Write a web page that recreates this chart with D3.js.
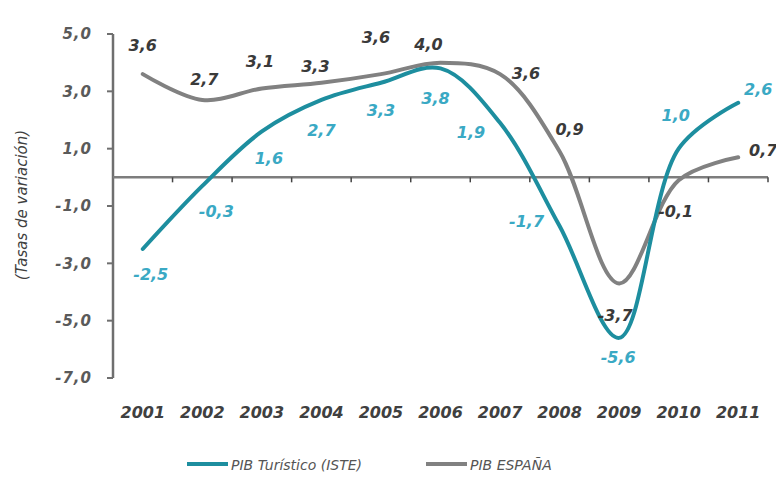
<!DOCTYPE html>
<html>
<head>
<meta charset="utf-8">
<script src="https://cdn.jsdelivr.net/npm/d3@7"></script>
<style>
  body { margin: 0; background: #fff; }
  svg text { font-family: "DejaVu Sans", sans-serif; font-style: italic; }
</style>
</head>
<body>
<svg width="776" height="479"></svg>
<script>
// values (data labels)
let years = ["2001", "2002", "2003", "2004", "2005", "2006", "2007", "2008", "2009", "2010", "2011"];
let pibTuristico = [-2.5, -0.3, 1.6, 2.7, 3.3, 3.8, 1.9, -1.7, -5.6, 1.0, 2.6];
let pibEspana = [3.6, 2.7, 3.1, 3.3, 3.6, 4.0, 3.6, 0.9, -3.7, -0.1, 0.7];
let yTicks = [5, 3, 1, -1, -3, -5, -7];

// label nudges (pixels) so the value labels sit where they did
let turOffsets = [[8, 25], [14, 25], [7, 27], [0, 30], [0, 28], [-5, 30], [-29, 10], [-33, -5], [-1, 20], [-3, -33], [20, -13]];
let espOffsets = [[0, -29], [2, -21], [-2, -27], [-6, -16], [-5, -37], [-12, -18], [26, -1], [10, -22], [-4, 32], [-3, 31], [25, -7]];

let teal = "#1d8e9f";
let tealText = "#3aa9c4";
let grey = "#818181";

let svg = d3.select("svg");
let fmt = v => d3.format(".1f")(v).replace(".", ",").replace("−", "-");

let x = d3.scaleBand().domain(years).range([113, 768]);
let y = d3.scaleLinear().domain([-7, 5]).range([378, 34]);
let cx = d => x(d) + x.bandwidth() / 2;

// y axis
svg.append("line")
  .attr("x1", 113).attr("x2", 113)
  .attr("y1", y(5)).attr("y2", y(-7))
  .attr("stroke", "#6f6f6f").attr("stroke-width", 2.5);

svg.append("g")
  .selectAll("line")
  .data(yTicks)
  .enter()
  .append("line")
  .attr("x1", 107).attr("x2", 113)
  .attr("y1", d => y(d)).attr("y2", d => y(d))
  .attr("stroke", "#6f6f6f").attr("stroke-width", 2);

svg.append("g")
  .selectAll("text")
  .data(yTicks)
  .enter()
  .append("text")
  .attr("x", 92)
  .attr("y", d => y(d))
  .attr("dy", "0.35em")
  .attr("text-anchor", "end")
  .attr("font-size", 15)
  .attr("font-weight", "bold")
  .attr("letter-spacing", 1)
  .attr("fill", "#5a5a5a")
  .text(fmt);

svg.append("text")
  .attr("transform", "translate(22,205) rotate(-90)")
  .attr("text-anchor", "middle")
  .attr("dy", "0.35em")
  .attr("font-size", 15)
  .attr("fill", "#3f3f3f")
  .text("(Tasas de variación)");

// zero line with ticks between years
svg.append("line")
  .attr("x1", 113).attr("x2", 768)
  .attr("y1", y(0)).attr("y2", y(0))
  .attr("stroke", "#7d7d7d").attr("stroke-width", 2.5);

svg.append("g")
  .selectAll("line")
  .data(years)
  .enter()
  .append("line")
  .attr("x1", d => x(d) + x.bandwidth()).attr("x2", d => x(d) + x.bandwidth())
  .attr("y1", y(0)).attr("y2", y(0) + 5)
  .attr("stroke", "#444").attr("stroke-width", 1.5);

// x labels
svg.append("g")
  .selectAll("text")
  .data(years)
  .enter()
  .append("text")
  .attr("x", d => cx(d))
  .attr("y", 418)
  .attr("text-anchor", "middle")
  .attr("font-size", 16)
  .attr("font-weight", "bold")
  .attr("fill", "#404040")
  .text(d => d);

// lines
let line = vals => d3.line()
  .x((d, i) => cx(years[i]))
  .y(d => y(d))
  .curve(d3.curveCatmullRom.alpha(0.5))(vals);

svg.append("path")
  .attr("d", line(pibEspana))
  .attr("fill", "none")
  .attr("stroke", grey)
  .attr("stroke-width", 4)
  .attr("stroke-linecap", "round");

svg.append("path")
  .attr("d", line(pibTuristico))
  .attr("fill", "none")
  .attr("stroke", teal)
  .attr("stroke-width", 4)
  .attr("stroke-linecap", "round");

// value labels
svg.append("g")
  .selectAll("text")
  .data(pibEspana)
  .enter()
  .append("text")
  .attr("x", (d, i) => cx(years[i]) + espOffsets[i][0])
  .attr("y", (d, i) => y(d) + espOffsets[i][1])
  .attr("dy", "0.35em")
  .attr("text-anchor", "middle")
  .attr("font-size", 16)
  .attr("font-weight", "bold")
  .attr("fill", "#3a3a3a")
  .text(fmt);

svg.append("g")
  .selectAll("text")
  .data(pibTuristico)
  .enter()
  .append("text")
  .attr("x", (d, i) => cx(years[i]) + turOffsets[i][0])
  .attr("y", (d, i) => y(d) + turOffsets[i][1])
  .attr("dy", "0.35em")
  .attr("text-anchor", "middle")
  .attr("font-size", 16)
  .attr("font-weight", "bold")
  .attr("fill", tealText)
  .text(fmt);

// legend
let legend = [
  { name: "PIB Turístico (ISTE)", color: teal, x: 187 },
  { name: "PIB ESPAÑA", color: grey, x: 426 }
];
let lg = svg.append("g")
  .selectAll("g")
  .data(legend)
  .enter()
  .append("g");
lg.append("line")
  .attr("x1", d => d.x).attr("x2", d => d.x + 41)
  .attr("y1", 464).attr("y2", 464)
  .attr("stroke", d => d.color).attr("stroke-width", 4);
lg.append("text")
  .attr("x", d => d.x + 44)
  .attr("y", 470)
  .attr("font-size", 14)
  .attr("fill", "#555")
  .text(d => d.name);
</script>
</body>
</html>
